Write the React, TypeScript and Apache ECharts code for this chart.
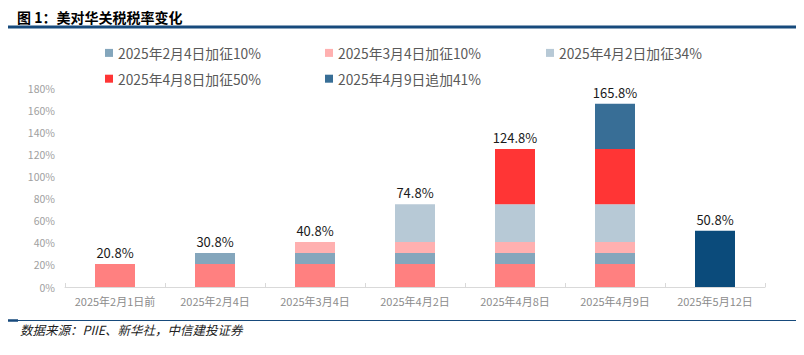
import React, { useEffect, useRef } from "react";
import * as echarts from "echarts";

const categories = [
  "2025年2月1日前",
  "2025年2月4日",
  "2025年3月4日",
  "2025年4月2日",
  "2025年4月8日",
  "2025年4月9日",
  "2025年5月12日",
];
const baseValues = [20.8, 20.8, 20.8, 20.8, 20.8, 20.8, 0];
const feb4Values = [0, 10, 10, 10, 10, 10, 0];
const mar4Values = [0, 0, 10, 10, 10, 10, 0];
const apr2Values = [0, 0, 0, 34, 34, 34, 0];
const apr8Values = [0, 0, 0, 0, 50, 50, 0];
const apr9Values = [0, 0, 0, 0, 0, 41, 0];
const may12Values = [0, 0, 0, 0, 0, 0, 50.8];
const totals = [20.8, 30.8, 40.8, 74.8, 124.8, 165.8, 50.8];
const seriesNames = [
  "2025年2月4日加征10%",
  "2025年3月4日加征10%",
  "2025年4月2日加征34%",
  "2025年4月8日加征50%",
  "2025年4月9日追加41%",
];
const yTicks = [0, 20, 40, 60, 80, 100, 120, 140, 160, 180];

const FONT = "'Noto Sans CJK SC', 'Noto Sans', sans-serif";

export default function App() {
  const ref = useRef<HTMLDivElement>(null);
  useEffect(() => {
    if (!ref.current) return;
    const chart = echarts.init(ref.current, null, { renderer: "svg" });
    const bar = (name: string, data: number[], color: string) => ({
      name,
      type: "bar",
      stack: "a",
      barWidth: 40,
      data,
      itemStyle: { color },
      emphasis: { disabled: true },
    });
    const legendCommon = {
      orient: "vertical",
      itemWidth: 8,
      itemHeight: 8,
      itemGap: 12,
      icon: "rect",
      textStyle: { color: "#595959", fontSize: 13.8, fontFamily: FONT },
      selectedMode: false,
    };
    chart.setOption({
      animation: false,
      textStyle: { fontFamily: FONT },
      grid: { left: 65, right: 39, top: 88, bottom: 68 },
      legend: [
        { ...legendCommon, left: 100, top: 41, data: [seriesNames[0], seriesNames[3]] },
        { ...legendCommon, left: 320, top: 41, data: [seriesNames[1], seriesNames[4]] },
        { ...legendCommon, left: 541, top: 41, data: [seriesNames[2]] },
      ],
      xAxis: {
        type: "category",
        data: categories,
        axisLine: { lineStyle: { color: "#D9D9D9", width: 1 } },
        axisTick: { show: true, inside: true, length: 4, lineStyle: { color: "#D9D9D9" } },
        axisLabel: { color: "#8C8C8C", fontSize: 11, margin: 8, interval: 0 },
      },
      yAxis: {
        type: "value",
        min: yTicks[0],
        max: yTicks[yTicks.length - 1],
        interval: 20,
        axisLine: { show: false },
        axisTick: { show: false },
        splitLine: { show: false },
        axisLabel: { color: "#A0A0A0", fontSize: 10.5, margin: 10, formatter: "{value}%" },
      },
      series: [
        bar("基础税率", baseValues, "#FF8080"),
        bar(seriesNames[0], feb4Values, "#84A6BC"),
        bar(seriesNames[1], mar4Values, "#FFB0B0"),
        bar(seriesNames[2], apr2Values, "#B7C9D6"),
        bar(seriesNames[3], apr8Values, "#FF3535"),
        bar(seriesNames[4], apr9Values, "#386E96"),
        bar("2025年5月12日", may12Values, "#0B4B7B"),
        {
          name: "合计",
          type: "bar",
          stack: "a",
          barWidth: 40,
          data: totals.map(() => 0),
          itemStyle: { color: "transparent" },
          label: {
            show: true,
            position: "top",
            distance: 5,
            color: "#1A1A1A",
            fontSize: 13,
            formatter: (p: any) => totals[p.dataIndex].toFixed(1) + "%",
          },
        },
      ],
      graphic: [
        {
          type: "text",
          left: 17,
          top: 10,
          style: {
            text: "图 1：美对华关税税率变化",
            fill: "#000",
            font: "bold 14px 'Noto Sans CJK SC', sans-serif",
          },
        },
        {
          type: "line",
          shape: { x1: 8, y1: 27, x2: 796, y2: 27 },
          style: { stroke: "#174A7C", lineWidth: 3 },
        },
        {
          type: "line",
          shape: { x1: 8, y1: 320.5, x2: 796, y2: 320.5 },
          style: { stroke: "#174A7C", lineWidth: 1 },
        },
        {
          type: "line",
          shape: { x1: 8, y1: 320.5, x2: 18, y2: 320.5 },
          style: { stroke: "#174A7C", lineWidth: 2.5 },
        },
        {
          type: "text",
          left: 20,
          top: 323,
          style: {
            text: "数据来源：PIIE、新华社，中信建投证券",
            fill: "#222",
            font: "italic 12.5px 'Noto Sans CJK SC', sans-serif",
          },
        },
      ],
    });
    return () => chart.dispose();
  }, []);
  return (
    <div
      ref={ref}
      style={{ position: "fixed", left: 0, top: 0, width: 804, height: 355, background: "#fff" }}
    />
  );
}
